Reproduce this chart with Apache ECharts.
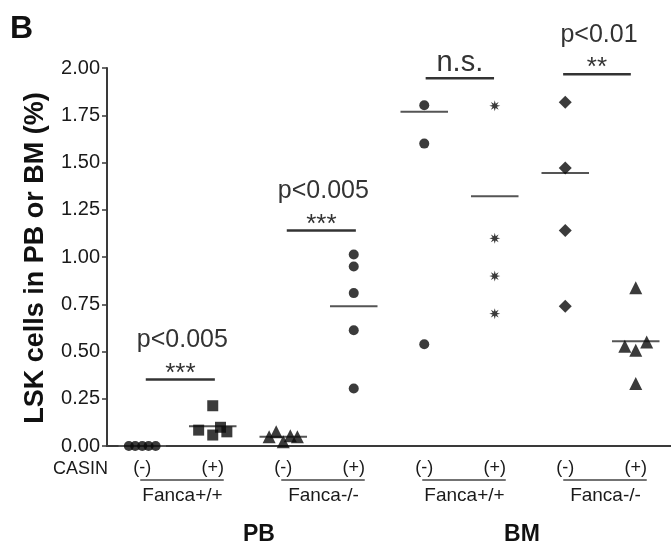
<!DOCTYPE html>
<html><head><meta charset="utf-8">
<script src="https://cdn.jsdelivr.net/npm/echarts@6/dist/echarts.min.js"></script>
<style>html,body{margin:0;padding:0;background:#fff}#c{width:671px;height:552px}</style>
</head><body><div id="c"></div>
<script>
// ---------- data ----------
const categories = ['(-)', '(+)', '(-)', '(+)', '(-)', '(+)', '(-)', '(+)'];
const yMin = 0, yMax = 2, yInterval = 0.25;

// each group: values + small horizontal jitter (in category units)
const pbWtMinus = [0, 0, 0, 0, 0];
const pbWtMinusJitter = [-0.19, -0.1, 0, 0.09, 0.19];
const pbWtPlus = [0.213, 0.084, 0.058, 0.099, 0.075];
const pbWtPlusJitter = [0, -0.2, 0, 0.11, 0.2];
const pbKoMinus = [0.049, 0.075, 0.023, 0.054, 0.049];
const pbKoMinusJitter = [-0.2, -0.1, 0, 0.1, 0.2];
const pbKoPlus = [1.013, 0.95, 0.809, 0.612, 0.304];
const pbKoPlusJitter = [0, 0, 0, 0, 0];
const bmWtMinus = [1.803, 1.60, 0.538];
const bmWtMinusJitter = [0, 0, 0];
const bmWtPlus = [1.80, 1.099, 0.899, 0.70];
const bmWtPlusJitter = [0, 0, 0, 0];
const bmKoMinus = [1.819, 1.471, 1.14, 0.739];
const bmKoMinusJitter = [0, 0, 0, 0];
const bmKoPlus = [0.837, 0.528, 0.507, 0.55, 0.331];
const bmKoPlusJitter = [0, -0.155, 0, 0.155, 0];

// horizontal summary line per group
const groupLines = [0, 0.105, 0.049, 0.739, 1.768, 1.321, 1.444, 0.554];

// significance brackets
const sigFrom = [0.05, 2.05, 4.02, 5.97];
const sigTo = [1.03, 3.03, 4.99, 6.93];
const sigLevel = [0.352, 1.14, 1.946, 1.967];
const sigMark = ['***', '***', 'n.s.', '**'];
const sigP = ['p<0.005', 'p<0.005', '', 'p<0.01'];

const genotypeLabels = ['Fanca+/+', 'Fanca-/-', 'Fanca+/+', 'Fanca-/-'];
const tissueLabels = ['PB', 'BM'];
const treatmentLabel = 'CASIN';
const yTitle = 'LSK cells in PB or BM (%)';
const panelLabel = 'B';

// ---------- styling ----------
function starPath(n, R, r) {
  let d = '';
  for (let k = 0; k < 2 * n; k++) {
    const a = Math.PI * k / n - Math.PI / 2;
    const rad = k % 2 === 0 ? R : r;
    d += (k === 0 ? 'M' : 'L') + (R + Math.cos(a) * rad).toFixed(2) + ' ' + (R + Math.sin(a) * rad).toFixed(2) + ' ';
  }
  return 'path://' + d + 'Z';
}
const groups = [
  [pbWtMinus, pbWtMinusJitter], [pbWtPlus, pbWtPlusJitter],
  [pbKoMinus, pbKoMinusJitter], [pbKoPlus, pbKoPlusJitter],
  [bmWtMinus, bmWtMinusJitter], [bmWtPlus, bmWtPlusJitter],
  [bmKoMinus, bmKoMinusJitter], [bmKoPlus, bmKoPlusJitter]
];
const symbols = ['circle', 'rect', 'triangle', 'circle', 'circle', starPath(8, 10, 4.2), 'diamond', 'triangle'];
const sizes = [10, 11, 13, 10, 10, 11, 13, 13];
const FONT = '"Liberation Sans", Arial, sans-serif';
const AX = '#3a3a3a';

const series = [];
groups.forEach((g, i) => {
  series.push({
    type: 'scatter', xAxisIndex: 1, yAxisIndex: 0,
    symbol: symbols[i], symbolSize: sizes[i],
    itemStyle: { color: '#0a0a0a' },
    data: g[0].map((v, k) => [i + g[1][k], v]),
    z: 5, silent: true
  });
  series.push({
    type: 'line', xAxisIndex: 1, yAxisIndex: 0, symbol: 'none',
    lineStyle: { color: '#555', width: 2 },
    data: [[i - 0.337, groupLines[i]], [i + 0.337, groupLines[i]]],
    z: 4, silent: true
  });
});
sigLevel.forEach((lv, j) => {
  series.push({
    type: 'line', xAxisIndex: 1, yAxisIndex: 0, symbol: 'none', clip: false,
    lineStyle: { color: '#333', width: 2.5 },
    data: [[sigFrom[j], lv], [sigTo[j], lv]], silent: true
  });
});

const chart = echarts.init(document.getElementById('c'), null, { renderer: 'canvas' });
chart.setOption({
  animation: false,
  backgroundColor: '#fff',
  textStyle: { fontFamily: FONT },
  grid: { left: 107, right: -7, top: 68, bottom: 106, containLabel: false },
  xAxis: [{
    type: 'category', data: categories, boundaryGap: true,
    axisLine: { onZero: false, lineStyle: { color: AX, width: 2 } },
    axisTick: { alignWithLabel: true, length: 6, lineStyle: { color: AX, width: 1.5 } },
    axisLabel: { color: '#1a1a1a', fontSize: 18, margin: 13, fontFamily: FONT },
    splitLine: { show: false }
  }, {
    type: 'value', min: -0.5, max: 7.5, show: false,
    axisLine: { onZero: false }
  }],
  yAxis: [{
    type: 'value', min: yMin, max: yMax, interval: yInterval,
    axisLine: { show: true, onZero: false, lineStyle: { color: AX, width: 2 } },
    axisTick: { show: true, length: 5, lineStyle: { color: AX, width: 1.5 } },
    axisLabel: { color: '#1a1a1a', fontSize: 20, margin: 7, fontFamily: FONT, formatter: v => v.toFixed(2) },
    splitLine: { show: false }
  }],
  series: series
});

// ---------- annotations in pixel space derived from data coords ----------
const px = (x, y) => chart.convertToPixel({ xAxisIndex: 1, yAxisIndex: 0 }, [x, y]);
const graphics = [];
const txt = (x, y, text, size, opts) => graphics.push(Object.assign({
  type: 'text', x: x, y: y, silent: true,
  style: Object.assign({ text: text, fontSize: size, fontFamily: FONT, fill: '#333', align: 'center', verticalAlign: 'middle' }, opts && opts.style || {})
}, opts && opts.el || {}));

sigLevel.forEach((lv, j) => {
  const a = px(sigFrom[j], lv), b = px(sigTo[j], lv);
  const cx = (a[0] + b[0]) / 2;
  if (sigMark[j] === 'n.s.') {
    txt(cx, a[1] - 15, sigMark[j], 29);
  } else {
    txt(cx, a[1] - 6, sigMark[j], 26);
  }
  if (sigP[j]) txt(cx + 2, a[1] - 39, sigP[j], 25);
});

const axisY = px(0, 0)[1];
genotypeLabels.forEach((lab, k) => {
  const l = px(2 * k, 0)[0], r = px(2 * k + 1, 0)[0];
  graphics.push({ type: 'line', silent: true, shape: { x1: l - 2, y1: axisY + 34, x2: r + 11, y2: axisY + 34 }, style: { stroke: '#444', lineWidth: 1.5 } });
  txt((l + r) / 2 + 5, axisY + 50, lab, 19, { style: { fill: '#1a1a1a' } });
});
tissueLabels.forEach((lab, k) => {
  const l = px(4 * k, 0)[0], r = px(4 * k + 3, 0)[0];
  txt((l + r) / 2 + (k === 0 ? 11 : -8), axisY + 89, lab, 23, { style: { fill: '#111', fontWeight: 'bold' } });
});
txt(108, axisY + 23, treatmentLabel, 18, { style: { fill: '#1a1a1a', align: 'right' } });
txt(36, 258, yTitle, 27, { style: { fill: '#111', fontWeight: 'bold' }, el: { rotation: Math.PI / 2 } });
txt(10, 29, panelLabel, 32, { style: { fill: '#111', fontWeight: 'bold', align: 'left' } });

chart.setOption({ graphic: graphics });
</script>
</body></html>
